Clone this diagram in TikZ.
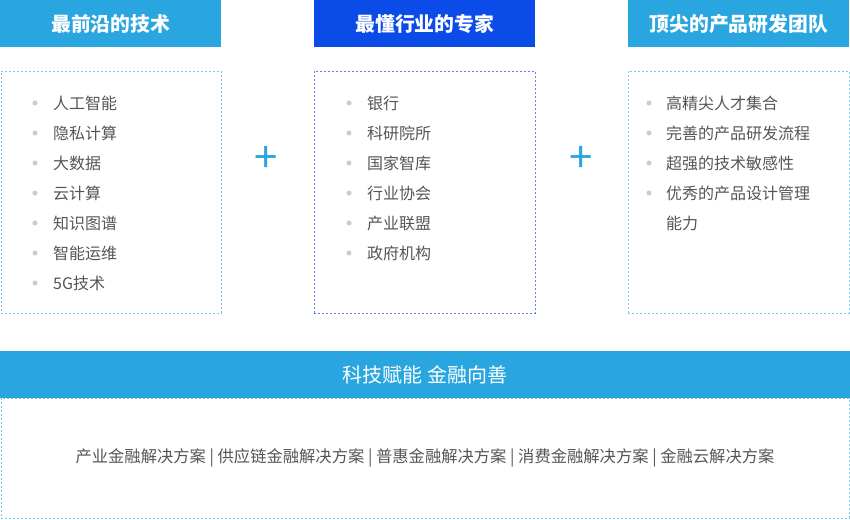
\documentclass[tikz,border=0pt]{standalone}
\usepackage{fontspec}
\setmainfont{Noto Sans CJK SC}
\usepackage{tikz}
\usetikzlibrary{positioning}
\definecolor{skyblue}{HTML}{29A5DF}
\definecolor{deepblue}{HTML}{0B4BE8}
\definecolor{itemgray}{HTML}{555555}
\definecolor{dotgray}{HTML}{CCCCCC}
\definecolor{lightdash}{HTML}{7CC8EC}
\definecolor{bluedash}{HTML}{5A80EA}
\tikzstyle{header} = [rectangle, anchor=north west, minimum width=221pt,
    minimum height=47pt, inner sep=0pt, text=white, font=\fontsize{19.8}{22}\selectfont\bfseries]
\tikzstyle{panel} = [rectangle, anchor=north west, minimum width=220pt,
    minimum height=242pt, inner sep=0pt, draw=lightdash, line width=0.9pt,
    dash pattern=on 2pt off 2pt]
\tikzstyle{item} = [anchor=west, inner sep=0pt, text=itemgray, font=\fontsize{16}{18}\selectfont]
\tikzstyle{dot} = [circle, fill=dotgray, minimum size=5pt, inner sep=0pt]
\tikzstyle{plus} = [text=skyblue, font=\fontsize{42}{44}\selectfont]

\begin{document}
\begin{tikzpicture}[x=1pt, y=-1pt]
  \useasboundingbox (0,0) rectangle (850,519);

  % Headers
  \node[header, fill=skyblue](h1) at (0,0) {最前沿的技术};
  \node[header, fill=deepblue](h2) at (314,0) {最懂行业的专家};
  \node[header, fill=skyblue](h3) at (628,0) {顶尖的产品研发团队};

  % Panels
  \node[panel](c1) at (1,71) {};
  \node[panel, draw=bluedash, minimum width=221pt](c2) at (314,71) {};
  \node[panel, minimum width=221pt](c3) at (628,71) {};

  % Items
  \foreach \txt [count=\i] in {人工智能,隐私计算,大数据,云计算,知识图谱,智能运维,5G技术}{
    \node[dot](d1-\i) at (35,73+30*\i) {};
    \node[item](t1-\i) at (53,73+30*\i) {\txt};
  }
  \foreach \txt [count=\i] in {银行,科研院所,国家智库,行业协会,产业联盟,政府机构}{
    \node[dot](d2-\i) at (349,73+30*\i) {};
    \node[item](t2-\i) at (367,73+30*\i) {\txt};
  }
  \foreach \txt [count=\i] in {高精尖人才集合,完善的产品研发流程,超强的技术敏感性,优秀的产品设计管理}{
    \node[dot](d3-\i) at (649,73+30*\i) {};
    \node[item](t3-\i) at (666,73+30*\i) {\txt};
  }
  \node[item](t3-5) at (666,223) {能力};

  % Plus signs
  \node[plus](p1) at (266,159) {+};
  \node[plus](p2) at (581,159) {+};

  % Bottom
  \node[panel, minimum width=848pt, minimum height=120pt](c4) at (1,398) {};
  \node[rectangle, anchor=north west, fill=skyblue, minimum width=850pt,
    minimum height=47pt, inner sep=0pt, text=white,
    font=\fontsize{20}{22}\selectfont](band) at (0,351) {科技赋能 金融向善};
  \node[item, anchor=center, font=\fontsize{16.3}{18}\selectfont](sol) at (425,458)
    {产业金融解决方案 | 供应链金融解决方案 | 普惠金融解决方案 | 消费金融解决方案 | 金融云解决方案};
\end{tikzpicture}
\end{document}
